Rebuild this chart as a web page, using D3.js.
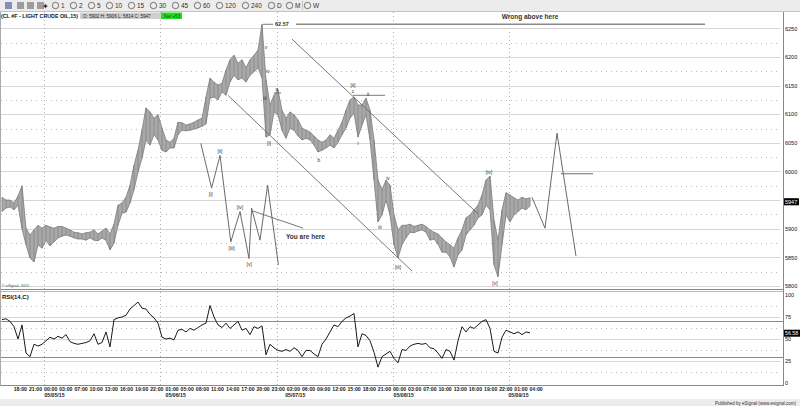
<!DOCTYPE html>
<html><head><meta charset="utf-8">
<script src="https://cdnjs.cloudflare.com/ajax/libs/d3/7.8.5/d3.min.js"></script>
<style>
body{margin:0;background:#fff}
svg{display:block}
text{font-family:"Liberation Sans",Arial,sans-serif}
</style>
</head><body>
<svg id="c" width="800" height="406"></svg>
<script>
// ---- data (15-min bars of CL #F, sampled) ----
const barHigh = [5955,5950,5950,5945,5957,5975,5901,5889,5898,5906,5901,5906,5903,5901,5904,5904,5901,5898,5894,5893,
5891,5893,5894,5898,5891,5896,5901,5891,5908,5941,5945,5955,5976,6011,6037,6072,6111,6104,6093,6099,
6076,6055,6051,6058,6086,6085,6081,6083,6086,6090,6093,6130,6163,6156,6151,6154,6177,6195,6203,6189,
6195,6181,6195,6203,6212,6257,6160,6116,6133,6142,6107,6093,6104,6099,6090,6076,6072,6069,6062,6055,
6051,6055,6064,6058,6072,6086,6107,6125,6130,6116,6116,6128,6107,6055,5985,5968,5985,5976,5924,5898,
5906,5906,5908,5904,5906,5908,5904,5898,5894,5891,5884,5877,5872,5866,5884,5898,5919,5924,5933,5941,
5959,5985,5992,5915,5880,5933,5963,5959,5954,5950,5955,5952,5954];
const barLow = [5930,5936,5938,5933,5941,5900,5872,5849,5842,5872,5866,5880,5870,5877,5884,5887,5889,5887,5884,5882,
5882,5880,5884,5880,5879,5884,5880,5863,5875,5906,5927,5929,5945,5968,5999,6023,6055,6046,6064,6055,
6037,6034,6041,6041,6064,6072,6071,6072,6074,6076,6079,6083,6128,6130,6125,6139,6133,6156,6168,6160,
6163,6156,6168,6174,6181,6163,6060,6064,6104,6099,6072,6058,6076,6072,6062,6055,6058,6055,6046,6034,
6037,6041,6046,6041,6051,6064,6076,6093,6102,6060,6081,6099,6055,5985,5912,5924,5950,5924,5872,5849,
5872,5884,5894,5893,5896,5898,5894,5880,5882,5873,5859,5859,5851,5833,5854,5863,5889,5898,5906,5919,
5924,5941,5933,5837,5816,5872,5924,5912,5924,5930,5936,5933,5940];
const rsiValues = [72,73,70,64,50,66,34,30,44,42,44,48,52,50,53,51,55,47,45,44,
45,46,48,56,44,46,58,41,72,74,75,77,84,88,92,85,84,78,74,68,
52,50,51,49,60,61,58,62,60,63,66,68,88,75,66,63,68,62,66,70,
60,62,55,64,62,65,32,44,40,37,36,38,36,40,37,30,37,37,33,30,
44,50,58,66,64,70,74,76,79,41,56,54,48,35,18,30,33,36,28,23,
38,37,42,44,45,44,45,40,39,34,28,38,36,26,48,64,58,64,62,66,
70,72,62,36,34,52,60,58,56,58,55,58,57];

const priceTicks = [5800,5850,5900,5950,6000,6050,6100,6150,6200,6250];
const priceMinor = [5825,5875,5925,5975,6025,6075,6125,6175,6225];
const rsiTicks = [0,25,50,75,100];
const rsiMinor = [12.5,37.5,62.5,87.5];
const rsiBands = [30,70];
const timeLabels = ["18:00","21:00","00:00","03:00","07:00","10:00","13:00","16:00","19:00","22:00","01:00","05:00","08:00","11:00","14:00","17:00","20:00","23:00","02:00","06:00","09:00","12:00","15:00","18:00","21:00","00:00","03:00","07:00","10:00","13:00","16:00","19:00","22:00","01:00","04:00"];
const timePos = [2.93,6.72,10.51,14.30,18.10,21.89,25.68,29.47,33.27,37.06,40.85,44.64,48.44,52.23,56.02,59.82,63.61,67.40,71.19,74.99,78.78,82.57,86.36,90.16,93.95,97.74,101.53,105.33,109.12,112.91,116.70,120.50,124.29,128.08,131.87];
const dateLabels = ["05/05/15","05/06/15","05/07/15","05/08/15","05/09/15"];
const datePos = [10.6,40.9,70.8,97.9,126.6];
const dayLines = [10.5,39.5,68.75,97.75,126.75];
const toolbarItems = ["1","2","5","10","15","30","45","60","120","240","D","M","W"];
const lastClose = 5947, lastRsi = 56.58;

// annotations in (bar index, price)
const channelUpper = [[72.5,6231],[119,5926]];
const channelLower = [[56.5,6133],[102.5,5826]];
const levelIi = [[87.75,6133],[95.75,6133]];
const levelA = [[68,6137],[69.75,6137]];
const highMark = [[65.25,6257],[67.75,6257]];
const wrongLine = [[73.5,6257],[175.75,6257]];
const projLeft = [[49.7,6049],[52.4,5971],[54.5,6028],[57.2,5877],[59.5,5930],[61.75,5848],[62.4,5936],[64.5,5880],[66.4,5976],[69.1,5837]];
const projLeftLabels = [["[ii]",54.5,6036],["[i]",52.2,5961],["[iii]",57.4,5866],["[iv]",59.5,5938],["[v]",61.8,5838]];
const pointer = [[62.7,5931],[75.3,5901]];
const projRight = [[132.5,5955],[135.75,5901],[138.75,6067],[143.5,5852]];
const projRightLevel = [[139.75,5996],[147.75,5996]];
const waveLabels = [["[i]",66.75,6050],["a",68.75,6144],["b",79.25,6020],["[ii]",87.75,6151],["c",87.75,6140],
["i",89,6050],["ii",91.5,6135],["iii",94.5,5903],["iv",96.5,5989],["[iii]",99,5833],["[iv]",121.75,5999],["[v]",123.25,5805],
["v",66,6217],["iv",66.5,6175],["iii",65.75,6128]];

// ---- drawing ----
const svg = d3.select("#c");
const W = 800, H = 406, plotR = 783;
const x = d3.scaleLinear().domain([0,1]).range([2,6]);
const y = d3.scaleLinear().domain([5800,6250]).range([286,28.3]);
const yr = d3.scaleLinear().domain([0,100]).range([383,295]);

svg.append("rect").attr("width",W).attr("height",H).attr("fill","#fff");
// toolbar
svg.append("rect").attr("x",0).attr("y",0).attr("width",W).attr("height",11).attr("fill","#ececec");
svg.append("line").attr("x1",0).attr("x2",W).attr("y1",11.5).attr("y2",11.5).attr("stroke","#c4c4c4");
const tb = svg.append("g");
[5,17,27,37].forEach((px,i)=>tb.append("rect").attr("x",px).attr("y",2).attr("width",7).attr("height",7).attr("fill",i==0?"#6a78b0":"#8a8a8a").attr("opacity",0.8));
tb.append("text").attr("x",42).attr("y",8.5).attr("font-size",8).attr("fill","#222").text("✦");
let tx = 52;
toolbarItems.forEach(t=>{
  tb.append("circle").attr("cx",tx+3.5).attr("cy",5.5).attr("r",3.2).attr("fill","none").attr("stroke","#555").attr("stroke-width",0.8);
  tb.append("text").attr("x",tx+9).attr("y",8).attr("font-size",6.5).attr("fill","#333").text(t);
  tx += 9 + t.length*4 + 5;
});
svg.append("line").attr("x1",302.5).attr("x2",302.5).attr("y1",1).attr("y2",10).attr("stroke","#c4c4c4");

// gridlines
const g = svg.append("g");
g.selectAll(".pg").data(priceTicks).join("line").attr("x1",1).attr("x2",780).attr("y1",d=>Math.round(y(d))+0.5).attr("y2",d=>Math.round(y(d))+0.5).attr("stroke","#d6d6d6");
g.selectAll(".pm").data(priceMinor).join("line").attr("x1",1).attr("x2",780).attr("y1",d=>Math.round(y(d))+0.5).attr("y2",d=>Math.round(y(d))+0.5).attr("stroke","#bdbdbd").attr("stroke-dasharray","1,4");
g.selectAll(".rg").data([25,50,75]).join("line").attr("x1",1).attr("x2",780).attr("y1",d=>Math.round(yr(d))+0.5).attr("y2",d=>Math.round(yr(d))+0.5).attr("stroke","#d6d6d6");
g.selectAll(".rm").data(rsiMinor).join("line").attr("x1",1).attr("x2",780).attr("y1",d=>Math.round(yr(d))+0.5).attr("y2",d=>Math.round(yr(d))+0.5).attr("stroke","#bdbdbd").attr("stroke-dasharray","1,4");
g.selectAll(".rb").data(rsiBands).join("line").attr("x1",1).attr("x2",plotR).attr("y1",d=>Math.round(yr(d))+0.5).attr("y2",d=>Math.round(yr(d))+0.5).attr("stroke","#8a8a8a");
g.selectAll(".dl").data(dayLines).join("line").attr("x1",d=>Math.round(x(d))+0.5).attr("x2",d=>Math.round(x(d))+0.5).attr("y1",12).attr("y2",385).attr("stroke","#b0b0b0").attr("stroke-dasharray","1,3");

// panel frames
svg.append("line").attr("x1",0).attr("x2",plotR).attr("y1",289.5).attr("y2",289.5).attr("stroke","#888");
svg.append("line").attr("x1",0).attr("x2",plotR).attr("y1",291.5).attr("y2",291.5).attr("stroke","#b8b8b8");
svg.append("line").attr("x1",0).attr("x2",plotR+1).attr("y1",385.5).attr("y2",385.5).attr("stroke","#888");
svg.append("line").attr("x1",plotR+0.5).attr("x2",plotR+0.5).attr("y1",12).attr("y2",386).attr("stroke","#888");
svg.append("line").attr("x1",0.5).attr("x2",0.5).attr("y1",12).attr("y2",386).attr("stroke","#aaa");

// price bars: band between highs and lows plus bar strokes
const idx = d3.range(barHigh.length);
svg.append("path").datum(idx).attr("fill","#a9a9a9").attr("stroke","none")
  .attr("d",d3.area().x(i=>x(i)).y0(i=>y(barLow[i])).y1(i=>y(barHigh[i])));
const bars = svg.append("g").attr("stroke","#8c8c8c").attr("stroke-width",1);
idx.forEach(i=>{
  bars.append("line").attr("x1",x(i)).attr("x2",x(i)).attr("y1",y(barHigh[i])).attr("y2",y(barLow[i]));
});
svg.append("path").datum(idx).attr("fill","none").attr("stroke","#7a7a7a").attr("stroke-width",0.8)
  .attr("d",d3.line().x(i=>x(i)).y(i=>y(barHigh[i])));
svg.append("path").datum(idx).attr("fill","none").attr("stroke","#7a7a7a").attr("stroke-width",0.8)
  .attr("d",d3.line().x(i=>x(i)).y(i=>y(barLow[i])));

// rsi line
svg.append("path").datum(idx).attr("fill","none").attr("stroke","#1a1a1a").attr("stroke-width",1)
  .attr("d",d3.line().x(i=>x(i)).y(i=>yr(rsiValues[i])));

// annotations
const ln = d3.line().x(d=>x(d[0])).y(d=>y(d[1]));
const ann = svg.append("g").attr("fill","none");
[channelUpper,channelLower,levelIi,levelA,highMark,pointer].forEach(a=>ann.append("path").attr("d",ln(a)).attr("stroke","#6a6a6a").attr("stroke-width",0.9));
ann.append("path").attr("d",ln(wrongLine)).attr("stroke","#8a8a8a").attr("stroke-width",1.6);
ann.append("path").attr("d",ln(projLeft)).attr("stroke","#6a6a6a").attr("stroke-width",1);
ann.append("path").attr("d",ln(projRight)).attr("stroke","#6a6a6a").attr("stroke-width",1);
ann.append("path").attr("d",ln(projRightLevel)).attr("stroke","#6a6a6a").attr("stroke-width",1);

const lab = svg.append("g").attr("font-size",5).attr("fill","#333").attr("text-anchor","middle");
waveLabels.concat(projLeftLabels).forEach(d=>lab.append("text").attr("x",x(d[1])).attr("y",y(d[2])+2).text(d[0]));
svg.append("text").attr("x",x(highMark[1][0])+2).attr("y",y(6257)+2).attr("font-size",5.5).attr("font-weight","bold").attr("fill","#333").text("62.57");
svg.append("text").attr("x",x(132)).attr("y",y(6270)+2).attr("font-size",6.5).attr("font-weight","bold").attr("text-anchor","middle").attr("fill","#333").text("Wrong above here");
svg.append("text").attr("x",x(71)).attr("y",y(5886)+2).attr("font-size",6.5).attr("font-weight","bold").attr("fill","#333").text("You are here");

// title
svg.append("text").attr("x",1).attr("y",18).attr("font-size",6).attr("font-weight","bold").attr("fill","#111")
  .attr("textLength",77).attr("lengthAdjust","spacingAndGlyphs").text("(CL #F - LIGHT CRUDE OIL,15)");
svg.append("rect").attr("x",80).attr("y",12.5).attr("width",81).attr("height",6.5).attr("fill","#cfcfcf");
svg.append("text").attr("x",83).attr("y",17.6).attr("font-size",4.6).attr("fill","#222").text("O: 5902   H: 5906   L: 5814   C: 5947");
svg.append("rect").attr("x",161).attr("y",12.5).attr("width",21).attr("height",6.5).attr("fill","#22dd22");
svg.append("text").attr("x",164).attr("y",17.6).attr("font-size",4.6).attr("fill","#115511").text("Net +53");
svg.append("text").attr("x",2).attr("y",287).attr("font-size",3.8).attr("fill","#555").text("© eSignal, 2015");

// right axes
const ax = svg.append("g").attr("transform",`translate(${plotR+1},0)`)
  .call(d3.axisRight(y).tickValues(priceTicks).tickSize(0).tickPadding(1).tickFormat(d3.format("d")));
ax.select(".domain").remove();
ax.selectAll("text").attr("font-size",5.5).attr("fill","#111");
const ax2 = svg.append("g").attr("transform",`translate(${plotR+1},0)`)
  .call(d3.axisRight(yr).tickValues(rsiTicks).tickSize(0).tickPadding(1).tickFormat(d3.format("d")));
ax2.select(".domain").remove();
ax2.selectAll("text").attr("font-size",5.5).attr("fill","#111");
svg.append("rect").attr("x",plotR+1).attr("y",y(lastClose)-3.5).attr("width",15).attr("height",7).attr("fill","#000");
svg.append("text").attr("x",plotR+2).attr("y",y(lastClose)+2).attr("font-size",5.5).attr("fill","#fff").text(lastClose);
svg.append("rect").attr("x",plotR+1).attr("y",yr(lastRsi)-3.5).attr("width",16).attr("height",7).attr("fill","#000");
svg.append("text").attr("x",plotR+2).attr("y",yr(lastRsi)+2).attr("font-size",5.3).attr("fill","#fff").text(lastRsi.toFixed(2));
svg.append("text").attr("x",2).attr("y",299).attr("font-size",6).attr("font-weight","bold").attr("fill","#111").text("RSI(14,C)");

// bottom axis
const bx = svg.append("g").attr("font-size",5.2).attr("font-weight","bold").attr("fill","#222");
timeLabels.forEach((t,i)=>bx.append("text").attr("x",x(timePos[i])).attr("y",391).text(t));
dateLabels.forEach((t,i)=>bx.append("text").attr("x",x(datePos[i])).attr("y",397).text(t));
svg.append("rect").attr("x",0).attr("y",399).attr("width",W).attr("height",7).attr("fill","#ececec");
svg.append("text").attr("x",796).attr("y",404.5).attr("font-size",4.5).attr("text-anchor","end").attr("fill","#333").text("Published by eSignal (www.esignal.com)");
</script>
</body></html>
